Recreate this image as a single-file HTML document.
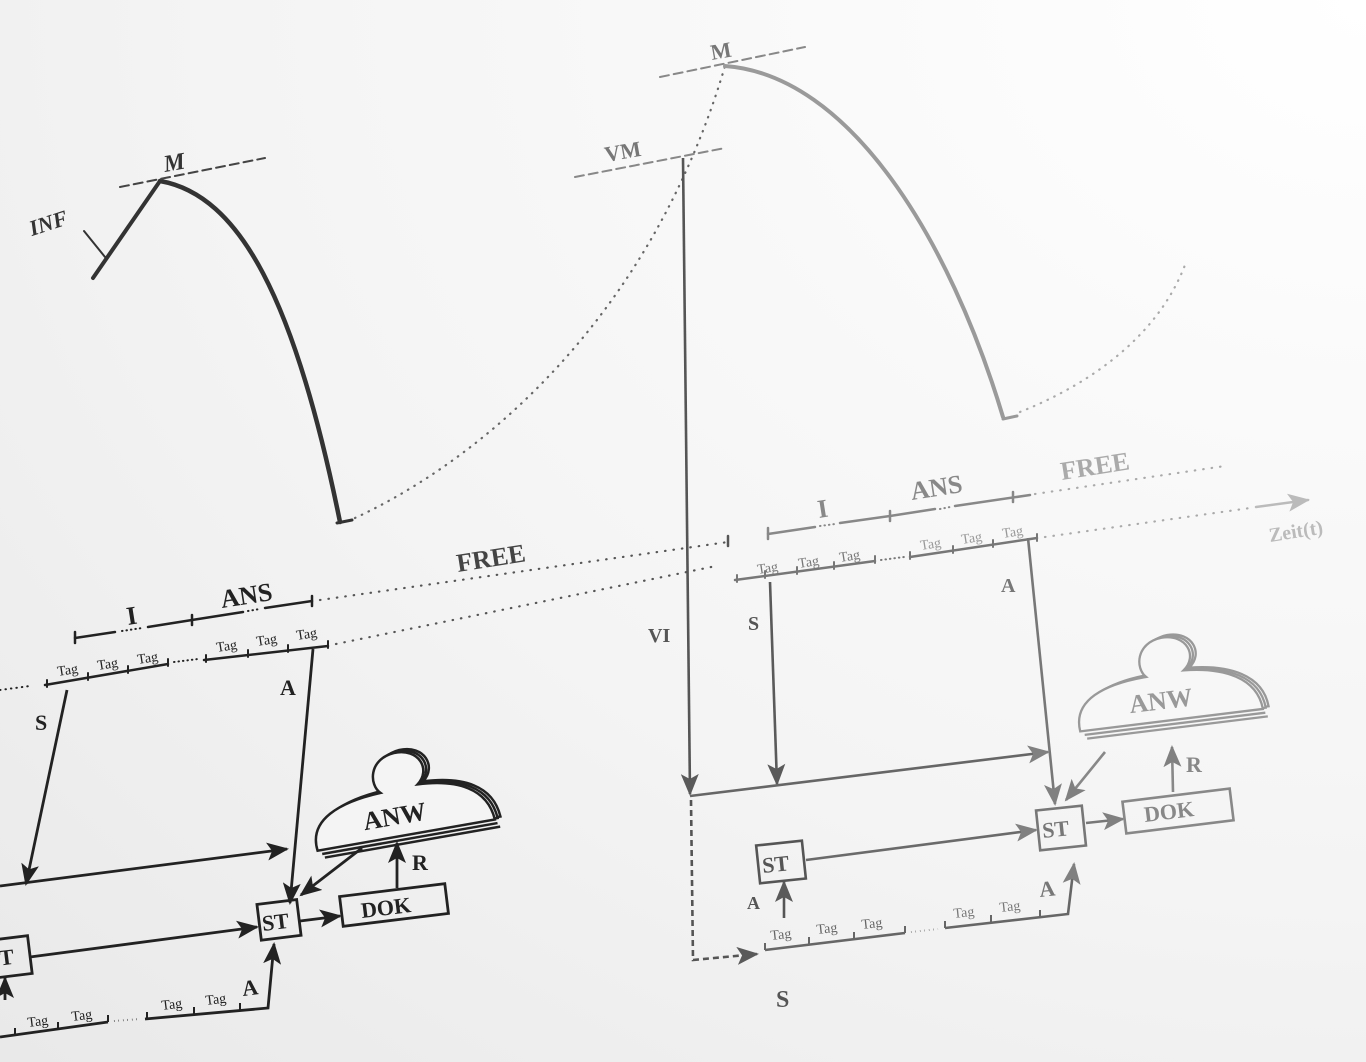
<!DOCTYPE html>
<html><head><meta charset="utf-8"><style>
html,body{margin:0;padding:0;}
body{width:1366px;height:1062px;overflow:hidden;background:#f3f3f3;}
svg{display:block}
text{font-family:"Liberation Serif",serif;font-weight:bold;}
.tag{font-weight:normal;font-size:14px;}
</style></head><body>
<svg width="1366" height="1062" viewBox="0 0 1366 1062" xmlns="http://www.w3.org/2000/svg">
<defs>
<radialGradient id="bg" cx="1" cy="0" r="1.4">
<stop offset="0" stop-color="#ffffff"/><stop offset="0.6" stop-color="#f4f4f4"/><stop offset="1" stop-color="#e9e9e9"/>
</radialGradient>
<marker id="aD" markerWidth="22" markerHeight="18" refX="20" refY="9" orient="auto" markerUnits="userSpaceOnUse" viewBox="0 0 22 18"><path d="M0,0 L22,9 L0,18 L5,9Z" fill="#222"/></marker>
<marker id="aG" markerWidth="22" markerHeight="18" refX="20" refY="9" orient="auto" markerUnits="userSpaceOnUse" viewBox="0 0 22 18"><path d="M0,0 L22,9 L0,18 L5,9Z" fill="#5a5a5a"/></marker>
<marker id="aL" markerWidth="22" markerHeight="18" refX="20" refY="9" orient="auto" markerUnits="userSpaceOnUse" viewBox="0 0 22 18"><path d="M0,0 L22,9 L0,18 L5,9Z" fill="#808080"/></marker>
<marker id="aZ" markerWidth="22" markerHeight="18" refX="20" refY="9" orient="auto" markerUnits="userSpaceOnUse" viewBox="0 0 22 18"><path d="M0,0 L22,9 L0,18 L5,9Z" fill="#bbb"/></marker>
</defs>
<rect width="1366" height="1062" fill="url(#bg)"/>

<!-- curves -->
<g fill="none" stroke-linecap="round">
<path d="M93,278 L160,181" stroke="#333" stroke-width="4"/>
<path d="M84,231 L105,257" stroke="#333" stroke-width="2"/>
<path d="M160,181 C240,195 295,300 340,522" stroke="#333" stroke-width="4.5"/>
<path d="M337,523 L352,520" stroke="#333" stroke-width="3"/>
<path d="M120,187 L265,158" stroke="#444" stroke-width="2" stroke-dasharray="9,5"/>
<path d="M355,518 C480,460 650,320 725,66" stroke="#666" stroke-width="2.2" stroke-dasharray="0.5,7"/>
<path d="M660,77 L805,47" stroke="#888" stroke-width="2" stroke-dasharray="9,5"/>
<path d="M575,177 L725,148" stroke="#888" stroke-width="2" stroke-dasharray="9,5"/>
<path d="M725,66 C850,75 950,240 1003,417" stroke="#9a9a9a" stroke-width="4"/>
<path d="M1003,419 L1017,416" stroke="#999" stroke-width="3"/>
<path d="M1020,412 C1100,380 1160,330 1185,265" stroke="#aaa" stroke-width="2.2" stroke-dasharray="0.5,7"/>
</g>
<text x="165" y="172" font-size="24" font-style="italic" fill="#333" transform="rotate(-10 165 172)">M</text>
<text x="32" y="236" font-size="22" font-style="italic" fill="#333" transform="rotate(-18 32 236)">INF</text>
<text x="712" y="60" font-size="22" fill="#777" transform="rotate(-10 712 60)">M</text>
<text x="606" y="162" font-size="22" fill="#777" transform="rotate(-10 606 162)">VM</text>

<!-- timelines -->
<g fill="none" stroke-linecap="round">
<path d="M75,638 L115,632 M148,627 L192,620 L243,612 M265,608 L312,601" stroke="#222" stroke-width="2.5"/>
<path d="M75,632 v11 M192,615 v10 M312,596 v10" stroke="#222" stroke-width="2.5"/>
<path d="M122,631 L142,628 M248,611 L260,609" stroke="#222" stroke-width="2" stroke-dasharray="0.5,4"/>
<path d="M320,600 L728,542" stroke="#555" stroke-width="2.2" stroke-dasharray="0.5,8"/>
<path d="M728,536 v10" stroke="#555" stroke-width="2.5"/>
<path d="M0,690 L30,686" stroke="#222" stroke-width="2" stroke-dasharray="0.5,5"/>
<path d="M45,685 L168,664 M204,660 L328,646" stroke="#222" stroke-width="2.5"/>
<path d="M47,680 v7 M88,673 v7 M128,666 v7 M168,659 v7 M206,655 v7 M248,650 v7 M288,645 v7 M328,641 v7" stroke="#222" stroke-width="2"/>
<path d="M174,662 L198,659" stroke="#222" stroke-width="2" stroke-dasharray="0.5,4"/>
<path d="M336,644 L716,566" stroke="#555" stroke-width="2.2" stroke-dasharray="0.5,8"/>
<path d="M768,534 L815,527 M840,523 L890,516 L935,509 M955,506 L1030,495" stroke="#888" stroke-width="2.5"/>
<path d="M768,528 v11 M890,511 v10 M1013,492 v10" stroke="#888" stroke-width="2.5"/>
<path d="M820,526 L835,524 M940,509 L950,507" stroke="#888" stroke-width="2" stroke-dasharray="0.5,4"/>
<path d="M1035,494 L1225,466" stroke="#aaa" stroke-width="2.2" stroke-dasharray="0.5,8"/>
<path d="M735,580 L875,561 M910,557 L1037,538" stroke="#777" stroke-width="2.5"/>
<path d="M737,575 v7 M765,571 v7 M797,567 v7 M834,562 v7 M875,556 v7 M910,552 v7 M953,546 v7 M993,540 v7 M1037,534 v7" stroke="#777" stroke-width="2"/>
<path d="M881,560 L904,557" stroke="#777" stroke-width="2" stroke-dasharray="0.5,4"/>
<path d="M1045,537 L1250,508" stroke="#aaa" stroke-width="2.2" stroke-dasharray="0.5,8"/>
<path d="M1256,507 L1308,500" stroke="#bbb" stroke-width="2.5" marker-end="url(#aZ)"/>
</g>
<g fill="#222">
<text x="128" y="625" font-size="26" transform="rotate(-9 128 625)">I</text>
<text x="222" y="608" font-size="26" transform="rotate(-9 222 608)">ANS</text>
<text class="tag" x="58" y="676" transform="rotate(-9 58 676)">Tag</text>
<text class="tag" x="98" y="670" transform="rotate(-9 98 670)">Tag</text>
<text class="tag" x="138" y="664" transform="rotate(-9 138 664)">Tag</text>
<text class="tag" x="217" y="652" transform="rotate(-9 217 652)">Tag</text>
<text class="tag" x="257" y="646" transform="rotate(-9 257 646)">Tag</text>
<text class="tag" x="297" y="640" transform="rotate(-9 297 640)">Tag</text>
</g>
<text x="458" y="572" font-size="26" fill="#444" transform="rotate(-9 458 572)">FREE</text>
<g fill="#888">
<text x="819" y="518" font-size="26" transform="rotate(-9 819 518)">I</text>
<text x="912" y="500" font-size="26" transform="rotate(-9 912 500)">ANS</text>
<text class="tag" x="758" y="574" transform="rotate(-9 758 574)" fill="#777">Tag</text>
<text class="tag" x="799" y="568" transform="rotate(-9 799 568)" fill="#777">Tag</text>
<text class="tag" x="840" y="562" transform="rotate(-9 840 562)" fill="#777">Tag</text>
<text class="tag" x="921" y="550" transform="rotate(-9 921 550)" fill="#999">Tag</text>
<text class="tag" x="962" y="544" transform="rotate(-9 962 544)" fill="#999">Tag</text>
<text class="tag" x="1003" y="538" transform="rotate(-9 1003 538)" fill="#999">Tag</text>
</g>
<text x="1062" y="480" font-size="26" fill="#aaa" transform="rotate(-9 1062 480)">FREE</text>
<text x="1270" y="542" font-size="20" fill="#bbb" transform="rotate(-9 1270 542)">Zeit(t)</text>

<!-- left flow -->
<g fill="none" stroke="#222" stroke-width="2.8">
<path d="M67,690 L26,884" marker-end="url(#aD)"/>
<path d="M313,649 L290,903" marker-end="url(#aD)"/>
<path d="M0,886 L287,849" marker-end="url(#aD)"/>
<path d="M30,957 L257,927" marker-end="url(#aD)"/>
<path d="M0,1037 L108,1022 M145,1019 L268,1008 L274,944" marker-end="url(#aD)"/>
<path d="M114,1021 L140,1019" stroke-dasharray="0.5,4" stroke-width="2"/>
<path d="M15,1035 v-7 M58,1029 v-7 M108,1022 v-7 M147,1019 v-7 M194,1014 v-7 M240,1010 v-7" stroke-width="2"/>
<path d="M300,921 L340,916" marker-end="url(#aD)"/>
<path d="M397,888 L397,843" marker-end="url(#aD)"/>
<path d="M362,848 L301,895" marker-end="url(#aD)"/>
<path d="M5,1000 L5,978" marker-end="url(#aD)"/>
<g transform="rotate(-7 278 920)"><rect x="259" y="902" width="40" height="36"/></g>
<g transform="rotate(-7 10 957)"><rect x="-15" y="938" width="45" height="38"/></g>
<g transform="rotate(-7 394 905)"><rect x="341" y="890" width="106" height="30"/></g>
</g>
<g fill="#222">
<text x="263" y="931" font-size="22" transform="rotate(-7 263 931)">ST</text>
<text x="-12" y="967" font-size="22" transform="rotate(-7 -12 967)">ST</text>
<text x="362" y="918" font-size="22" transform="rotate(-7 362 918)">DOK</text>
<text x="35" y="730" font-size="22">S</text>
<text x="280" y="695" font-size="22">A</text>
<text x="412" y="870" font-size="22">R</text>
<text x="243" y="996" font-size="22" transform="rotate(-7 243 996)">A</text>
<text class="tag" x="28" y="1027" transform="rotate(-7 28 1027)">Tag</text>
<text class="tag" x="72" y="1021" transform="rotate(-7 72 1021)">Tag</text>
<text class="tag" x="162" y="1010" transform="rotate(-7 162 1010)">Tag</text>
<text class="tag" x="206" y="1005" transform="rotate(-7 206 1005)">Tag</text>
</g>
<!-- left cloud -->
<g transform="translate(303,768) rotate(-10)" fill="none" stroke="#222" stroke-width="2.5">
<path d="M6,92 L184,92 M4,88 L182,88" />
<path d="M0,84 C-4,52 30,40 72,38 C62,28 66,3 92,1 C118,0 126,24 110,36 C150,38 178,52 180,84 Z" fill="#f4f4f4" transform="translate(6,-2)"/>
<path d="M0,84 C-4,52 30,40 72,38 C62,28 66,3 92,1 C118,0 126,24 110,36 C150,38 178,52 180,84 Z" fill="#f4f4f4" transform="translate(3,-1)"/>
<path d="M0,84 C-4,52 30,40 72,38 C62,28 66,3 92,1 C118,0 126,24 110,36 C150,38 178,52 180,84 Z" fill="#f4f4f4"/>
<text x="50" y="72" font-size="26" fill="#222" stroke="none">ANW</text>
</g>

<!-- right flow -->
<g fill="none" stroke-width="2.6">
<path d="M683,158 L690,794" stroke="#555" marker-end="url(#aG)"/>
<path d="M770,582 L777,784" stroke="#5a5a5a" marker-end="url(#aG)"/>
<path d="M1028,538 L1055,804" stroke="#777" marker-end="url(#aL)"/>
<path d="M690,796 L1048,752" stroke="#666" marker-end="url(#aL)"/>
<path d="M691,800 L693,960 L757,954" stroke="#555" stroke-dasharray="6,4" marker-end="url(#aG)"/>
<path d="M765,950 L905,933 M945,928 L1068,914 L1074,864" stroke="#666" marker-end="url(#aL)"/>
<path d="M911,932 L938,929" stroke="#666" stroke-dasharray="0.5,4" stroke-width="2"/>
<path d="M765,950 v-7 M809,944 v-7 M854,939 v-7 M905,933 v-7 M945,928 v-7 M991,922 v-7 M1040,917 v-7" stroke="#666" stroke-width="2"/>
<path d="M784,918 L784,882" stroke="#555" marker-end="url(#aG)"/>
<path d="M806,860 L1036,830" stroke="#6a6a6a" marker-end="url(#aL)"/>
<path d="M1086,823 L1123,819" stroke="#777" marker-end="url(#aL)"/>
<path d="M1173,792 L1172,747" stroke="#888" marker-end="url(#aL)"/>
<path d="M1105,752 L1066,800" stroke="#888" marker-end="url(#aL)"/>
<g transform="rotate(-6 781 862)"><rect x="758" y="843" width="46" height="38" stroke="#555"/></g>
<g transform="rotate(-6 1061 828)"><rect x="1038" y="808" width="46" height="40" stroke="#777"/></g>
<g transform="rotate(-7 1178 811)"><rect x="1124" y="795" width="108" height="32" stroke="#888"/></g>
</g>
<g>
<text x="763" y="873" font-size="22" fill="#555" transform="rotate(-6 763 873)">ST</text>
<text x="1043" y="838" font-size="22" fill="#777" transform="rotate(-6 1043 838)">ST</text>
<text x="1145" y="822" font-size="22" fill="#888" transform="rotate(-7 1145 822)">DOK</text>
<text x="648" y="642" font-size="20" fill="#555">VI</text>
<text x="748" y="630" font-size="20" fill="#555">S</text>
<text x="1001" y="592" font-size="20" fill="#777">A</text>
<text x="1186" y="772" font-size="22" fill="#888">R</text>
<text x="747" y="909" font-size="18" fill="#555">A</text>
<text x="1040" y="897" font-size="22" fill="#777" transform="rotate(-6 1040 897)">A</text>
<text x="776" y="1007" font-size="24" fill="#555">S</text>
<text class="tag" x="771" y="940" fill="#666" transform="rotate(-6 771 940)">Tag</text>
<text class="tag" x="817" y="934" fill="#666" transform="rotate(-6 817 934)">Tag</text>
<text class="tag" x="862" y="929" fill="#666" transform="rotate(-6 862 929)">Tag</text>
<text class="tag" x="954" y="918" fill="#777" transform="rotate(-6 954 918)">Tag</text>
<text class="tag" x="1000" y="912" fill="#777" transform="rotate(-6 1000 912)">Tag</text>
</g>
<!-- right cloud -->
<g transform="translate(1070,648) rotate(-7)" fill="none" stroke="#999" stroke-width="2.3">
<path d="M6,92 L188,92 M4,88 L186,88"/>
<path d="M0,84 C-4,52 30,40 72,38 C62,28 66,3 92,1 C118,0 126,24 110,36 C150,38 182,52 184,84 Z" fill="#f7f7f7" transform="translate(6,-2)"/>
<path d="M0,84 C-4,52 30,40 72,38 C62,28 66,3 92,1 C118,0 126,24 110,36 C150,38 182,52 184,84 Z" fill="#f7f7f7" transform="translate(3,-1)"/>
<path d="M0,84 C-4,52 30,40 72,38 C62,28 66,3 92,1 C118,0 126,24 110,36 C150,38 182,52 184,84 Z" fill="#f7f7f7"/>
<text x="52" y="72" font-size="26" fill="#999" stroke="none">ANW</text>
</g>
</svg>
</body></html>
